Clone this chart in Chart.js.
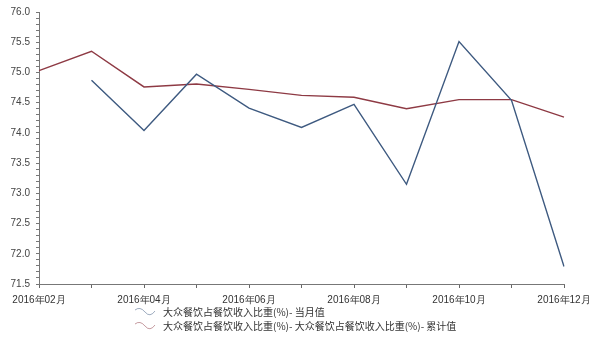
<!DOCTYPE html>
<html>
<head>
<meta charset="utf-8">
<script src="https://cdn.jsdelivr.net/npm/chart.js@4/dist/chart.umd.min.js"></script>
<style>
  body { margin: 0; background: #fff; }
  #wrap { position: relative; width: 600px; height: 341px; }
  #legend {
    position: absolute; left: 134px; top: 305px;
    font: 10px "Noto Sans CJK SC", "DejaVu Sans", sans-serif; color: #333;
    line-height: 14px;
  }
  #legend div { display: flex; align-items: center; white-space: nowrap; height: 14px; }
  #legend svg { margin-right: 7px; }
</style>
</head>
<body>
<div id="wrap">
  <canvas id="c" width="600" height="341"></canvas>
  <div id="legend"></div>
</div>
<script>
/* ================================
   DATA
================================ */

const months = ["2016年02月", "2016年03月", "2016年04月", "2016年05月", "2016年06月",
  "2016年07月", "2016年08月", "2016年09月", "2016年10月", "2016年11月", "2016年12月"];

const monthly = [null, 74.87, 74.04, 74.97, 74.41, 74.09, 74.47, 73.15, 75.51, 74.54, 71.79];
const cumulative = [75.03, 75.35, 74.76, 74.81, 74.72, 74.62, 74.59, 74.40, 74.55, 74.55, 74.26];

const seriesNames = ["大众餐饮占餐饮收入比重(%)- 当月值", "大众餐饮占餐饮收入比重(%)- 大众餐饮占餐饮收入比重(%)- 累计值"];
const colors = ["#3e5a80", "#8e3a44"];

const yMin = 71.5, yMax = 76.0;

/* ================================
   CHART
================================ */

const font = { family: "'Liberation Sans', Arial, sans-serif", size: 10 };

new Chart(document.getElementById("c"), {
  type: "line",
  data: {
    labels: months,
    datasets: [
      { label: seriesNames[0], data: monthly, borderColor: colors[0], borderWidth: 1.4, pointRadius: 0, tension: 0 },
      { label: seriesNames[1], data: cumulative, borderColor: colors[1], borderWidth: 1.4, pointRadius: 0, tension: 0 }
    ]
  },
  options: {
    responsive: false,
    animation: false,
    layout: { padding: { top: 11, right: 36, bottom: 30, left: 0 } },
    plugins: { legend: { display: false }, tooltip: { enabled: false } },
    scales: {
      x: {
        offset: false,
        grid: { drawOnChartArea: false, tickLength: 4, tickColor: "#666" },
        border: { color: "#777" },
        ticks: {
          autoSkip: false, maxRotation: 0, color: "#333", font, padding: 6,
          callback: (v, i) => i % 2 === 0 ? months[i] : ""
        },
        afterFit: s => { s.height = 27; }
      },
      y: {
        min: yMin, max: yMax,
        grid: { drawOnChartArea: false, tickLength: 3, tickColor: "#777" },
        border: { color: "#777" },
        ticks: {
          stepSize: 0.1, autoSkip: false, color: "#444", font, padding: 6,
          callback: v => Math.round(v * 10) % 5 === 0 ? v.toFixed(1) : ""
        },
        afterFit: s => { s.width = 39; }
      }
    }
  }
});

/* legend with wavy icons */
const legend = document.getElementById("legend");
seriesNames.forEach((name, i) => {
  legend.innerHTML += `<div><svg width="22" height="10"><path d="M1 3 Q6 -1 11 5 T21 4" fill="none" stroke="${colors[i]}" stroke-opacity="0.5" stroke-width="1"/></svg><span>${name}</span></div>`;
});
</script>
</body>
</html>
